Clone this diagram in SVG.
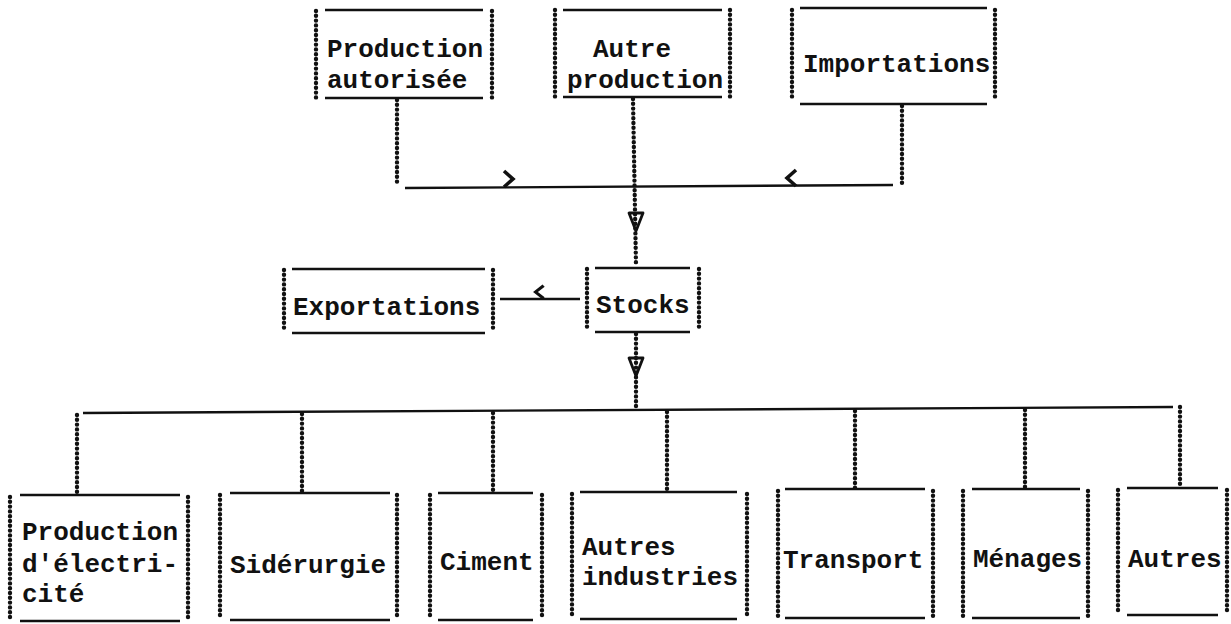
<svg xmlns="http://www.w3.org/2000/svg" xmlns:xlink="http://www.w3.org/1999/xlink" width="1231" height="624" viewBox="0 0 1231 624">
<style>
.bg{fill:#fff}
.ln{stroke:#111;stroke-width:2.4;fill:none;stroke-linecap:butt}
.dot{stroke:#111;stroke-width:4.4;fill:none;stroke-linecap:round;stroke-dasharray:0 4.8}
.chev{stroke:#111;stroke-width:3.6;fill:none;stroke-linejoin:miter;stroke-linecap:butt}
.tri{stroke:#111;stroke-width:2.8;fill:none;stroke-linejoin:round}
text{font-family:"Liberation Mono","DejaVu Sans Mono",monospace;font-weight:bold;font-size:26px;fill:#111}
</style>
<defs>
<path id="chevR" d="M-4,-8 L5,0 L-4,8"/>
<path id="chevL" d="M4,-8 L-5,0 L4,8"/>
<path id="triD" d="M-7,0 L7,0 L0,18 Z"/>
</defs>
<rect class="bg" x="0" y="0" width="1231" height="624"/>

<g id="connectors">
  <line class="dot" x1="397" y1="100" x2="397" y2="185"/>
  <line class="dot" x1="902" y1="106" x2="902" y2="184"/>
  <line class="dot" x1="633" y1="99" x2="636" y2="266"/>
  <line class="ln" x1="405" y1="188" x2="893" y2="185"/>
  <use xlink:href="#chevR" class="chev" transform="translate(508,179)"/>
  <use xlink:href="#chevL" class="chev" transform="translate(792,178)"/>
  <use xlink:href="#triD" class="tri" transform="translate(636,213)"/>
  <line class="ln" x1="500" y1="299" x2="580" y2="299"/>
  <use xlink:href="#chevL" class="chev" transform="translate(540,292) scale(0.9,0.8)"/>
  <line class="dot" x1="636" y1="334" x2="636" y2="410"/>
  <use xlink:href="#triD" class="tri" transform="translate(636,358)"/>
  <line class="ln" x1="83" y1="413" x2="1173" y2="407"/>
  <line class="dot" x1="77" y1="415" x2="77" y2="493"/>
  <line class="dot" x1="302" y1="414" x2="302" y2="492"/>
  <line class="dot" x1="493" y1="413" x2="493" y2="492"/>
  <line class="dot" x1="667" y1="412" x2="667" y2="491"/>
  <line class="dot" x1="855" y1="411" x2="855" y2="488"/>
  <line class="dot" x1="1025" y1="410" x2="1025" y2="488"/>
  <line class="dot" x1="1180" y1="407" x2="1180" y2="487"/>
</g>

<g id="production-autorisee">
  <line class="ln" x1="325" y1="10" x2="483" y2="10"/>
  <line class="ln" x1="325" y1="98" x2="483" y2="98"/>
  <line class="dot" x1="316" y1="11" x2="316" y2="101"/>
  <line class="dot" x1="492" y1="11" x2="492" y2="101"/>
  <text x="327" y="57">Production</text>
  <text x="327" y="88">autorisée</text>
</g>

<g id="autre-production">
  <line class="ln" x1="563" y1="10" x2="722" y2="10"/>
  <line class="ln" x1="563" y1="97" x2="722" y2="97"/>
  <line class="dot" x1="555" y1="10" x2="555" y2="100"/>
  <line class="dot" x1="730" y1="10" x2="730" y2="100"/>
  <text x="593" y="57">Autre</text>
  <text x="567" y="88">production</text>
</g>

<g id="importations">
  <line class="ln" x1="800" y1="8" x2="987" y2="8"/>
  <line class="ln" x1="800" y1="104" x2="987" y2="104"/>
  <line class="dot" x1="792" y1="10" x2="792" y2="100"/>
  <line class="dot" x1="995" y1="10" x2="995" y2="100"/>
  <text x="803" y="72">Importations</text>
</g>

<g id="exportations">
  <line class="ln" x1="292" y1="269" x2="485" y2="269"/>
  <line class="ln" x1="292" y1="333" x2="485" y2="333"/>
  <line class="dot" x1="284" y1="270" x2="284" y2="330"/>
  <line class="dot" x1="493" y1="270" x2="493" y2="330"/>
  <text x="293" y="315">Exportations</text>
</g>

<g id="stocks">
  <line class="ln" x1="595" y1="268" x2="690" y2="268"/>
  <line class="ln" x1="595" y1="332" x2="690" y2="332"/>
  <line class="dot" x1="587" y1="269" x2="587" y2="329"/>
  <line class="dot" x1="699" y1="269" x2="699" y2="329"/>
  <text x="596" y="313">Stocks</text>
</g>

<g id="production-electricite">
  <line class="ln" x1="20" y1="495" x2="180" y2="495"/>
  <line class="ln" x1="20" y1="621" x2="180" y2="621"/>
  <line class="dot" x1="10" y1="497" x2="10" y2="620"/>
  <line class="dot" x1="188" y1="497" x2="188" y2="620"/>
  <text x="22" y="540">Production</text>
  <text x="22" y="572">d'électri-</text>
  <text x="22" y="602">cité</text>
</g>

<g id="siderurgie">
  <line class="ln" x1="230" y1="493" x2="390" y2="493"/>
  <line class="ln" x1="230" y1="620" x2="390" y2="620"/>
  <line class="dot" x1="220" y1="495" x2="220" y2="619"/>
  <line class="dot" x1="397" y1="495" x2="397" y2="619"/>
  <text x="230" y="573">Sidérurgie</text>
</g>

<g id="ciment">
  <line class="ln" x1="438" y1="493" x2="533" y2="493"/>
  <line class="ln" x1="438" y1="620" x2="533" y2="620"/>
  <line class="dot" x1="430" y1="495" x2="430" y2="619"/>
  <line class="dot" x1="542" y1="495" x2="542" y2="619"/>
  <text x="440" y="570">Ciment</text>
</g>

<g id="autres-industries">
  <line class="ln" x1="580" y1="492" x2="737" y2="492"/>
  <line class="ln" x1="580" y1="619" x2="737" y2="619"/>
  <line class="dot" x1="572" y1="494" x2="572" y2="618"/>
  <line class="dot" x1="747" y1="494" x2="747" y2="618"/>
  <text x="582" y="555">Autres</text>
  <text x="582" y="585">industries</text>
</g>

<g id="transport">
  <line class="ln" x1="785" y1="489" x2="925" y2="489"/>
  <line class="ln" x1="785" y1="618" x2="925" y2="618"/>
  <line class="dot" x1="778" y1="491" x2="778" y2="616"/>
  <line class="dot" x1="933" y1="491" x2="933" y2="616"/>
  <text x="783" y="568">Transport</text>
</g>

<g id="menages">
  <line class="ln" x1="972" y1="489" x2="1080" y2="489"/>
  <line class="ln" x1="972" y1="618" x2="1080" y2="618"/>
  <line class="dot" x1="963" y1="491" x2="963" y2="616"/>
  <line class="dot" x1="1088" y1="491" x2="1088" y2="616"/>
  <text x="973" y="567">Ménages</text>
</g>

<g id="autres">
  <line class="ln" x1="1127" y1="488" x2="1218" y2="488"/>
  <line class="ln" x1="1127" y1="615" x2="1218" y2="615"/>
  <line class="dot" x1="1118" y1="490" x2="1118" y2="613"/>
  <line class="dot" x1="1227" y1="490" x2="1227" y2="613"/>
  <text x="1128" y="567">Autres</text>
</g>
</svg>
